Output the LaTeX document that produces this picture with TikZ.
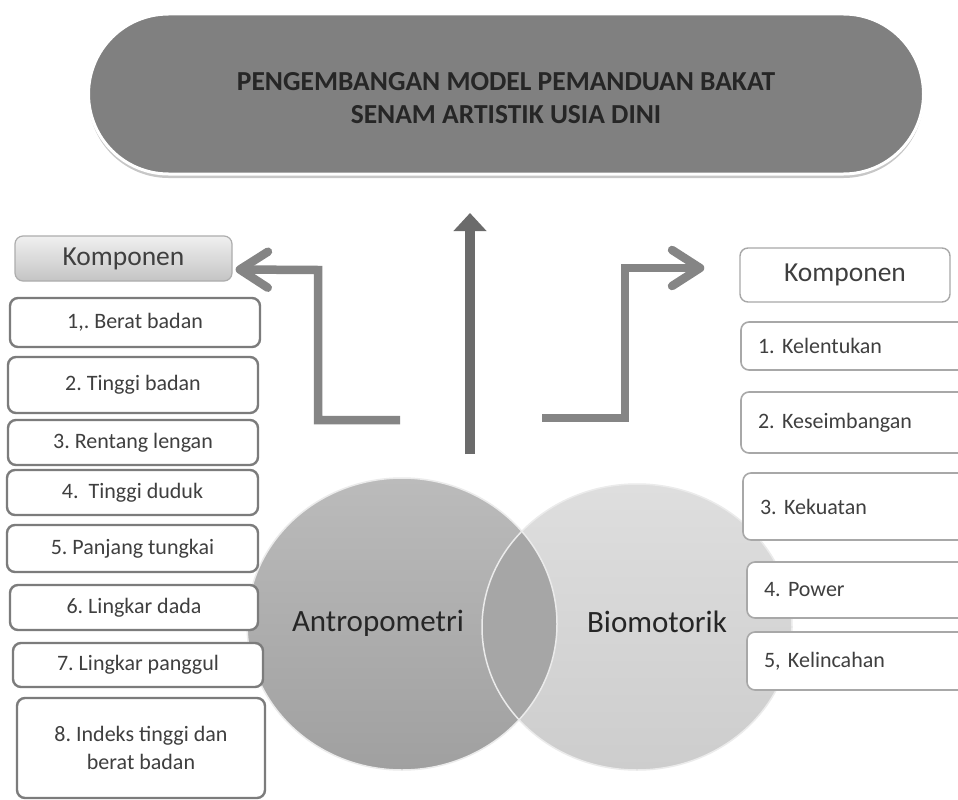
\documentclass[tikz,border=0pt]{standalone}
\usepackage{fontspec}
\setmainfont{Carlito}
\frenchspacing
\usetikzlibrary{arrows.meta,shadows,calc}
\definecolor{pillgray}{HTML}{808080}
\definecolor{titletext}{HTML}{262626}
\definecolor{textgray}{HTML}{3F3F3F}
\definecolor{lborder}{HTML}{7C7C7C}
\definecolor{rborder}{HTML}{A8A8A8}
\definecolor{arrowgray}{HTML}{858585}
\definecolor{antrotop}{HTML}{BBBBBB}
\definecolor{antrobot}{HTML}{A0A0A0}
\definecolor{biotop}{HTML}{DEDEDE}
\definecolor{biobot}{HTML}{CDCDCD}
\definecolor{overlapgray}{HTML}{A6A6A6}
\tikzset{
  pill/.style={fill=pillgray, draw=white, line width=3pt, minimum width=835pt, minimum height=160pt,
    rounded corners=80pt, inner sep=0pt, align=center, text=titletext,
    font=\bfseries\fontsize{27.5}{33}\selectfont,
    drop shadow={shadow xshift=0pt, shadow yshift=-4pt, fill=black, opacity=0.22}},
  lbox/.style={draw=lborder, line width=2.4pt, rounded corners=8pt, fill=white, inner sep=0pt,
    text=textgray, align=center, font=\fontsize{22}{28}\selectfont},
  rbox/.style={draw=rborder, line width=1.6pt, rounded corners=8pt, fill=white, inner xsep=17pt, inner ysep=0pt,
    text width=200pt, align=left, text=textgray, font=\fontsize{22}{24}\selectfont},
  komp/.style={rounded corners=8pt, inner sep=0pt, text=textgray, font=\fontsize{27.5}{30}\selectfont},
  circlabel/.style={text=titletext, font=\fontsize{31}{34}\selectfont},
  conn/.style={draw=arrowgray, line width=8.5pt},
}
\begin{document}
\begin{tikzpicture}[x=1pt,y=-1pt]
\useasboundingbox (0,0) rectangle (958,800);
\clip (0,0) rectangle (958,800);
\fill[white] (0,0) rectangle (958,800);

% title pill
\node[pill] (title) at (506,94) {\rule{0pt}{27pt}PENGEMBANGAN MODEL PEMANDUAN BAKAT\\SENAM ARTISTIK USIA DINI};

% circles
\shade[top color=antrotop, bottom color=antrobot] (402,624) ellipse [x radius=155, y radius=146];
\shade[top color=biotop, bottom color=biobot] (637,627) ellipse [x radius=155, y radius=143];
\begin{scope}
  \clip (402,624) ellipse [x radius=155, y radius=146];
  \fill[overlapgray] (637,627) ellipse [x radius=155, y radius=143];
\end{scope}
\draw[white!92!black, line width=1.5pt] (402,624) ellipse [x radius=155, y radius=146];
\draw[white!92!black, line width=1.5pt] (637,627) ellipse [x radius=155, y radius=143];
\node[circlabel] (antro) at (378,623) {Antropometri};
\node[circlabel] (bio) at (657,622) {Biomotorik};

% left boxes
\node[komp, top color=white!94!black, bottom color=white!77!black, draw=white!68!black, line width=1.2pt,
  minimum width=217pt, minimum height=45pt] (lk) at (123.5,258.5) {Komponen};
\node[lbox, minimum width=250pt, minimum height=49pt] (l1) at (135,322.5) {1,. Berat badan};
\node[lbox, minimum width=250pt, minimum height=56pt] (l2) at (133,385) {2. Tinggi badan};
\node[lbox, minimum width=250pt, minimum height=45pt] (l3) at (133,442.5) {3. Rentang lengan};
\node[lbox, minimum width=251pt, minimum height=45pt] (l4) at (132.5,492.5) {4.\ \ Tinggi duduk};
\node[lbox, minimum width=251pt, minimum height=47pt] (l5) at (132.5,548.5) {5. Panjang tungkai};
\node[lbox, minimum width=248pt, minimum height=45pt] (l6) at (134,607.5) {6. Lingkar dada};
\node[lbox, minimum width=250pt, minimum height=44pt] (l7) at (138,665) {7. Lingkar panggul};
\node[lbox, minimum width=248pt, minimum height=100pt] (l8) at (141,748) {8. Indeks tinggi dan\\berat badan};

% right boxes
\node[komp, fill=white, draw=rborder, line width=1.4pt, minimum width=210pt, minimum height=54pt] (rk) at (845,275) {Komponen};
\node[rbox, minimum height=48pt] (r1) at (858,346) {1. Kelentukan};
\node[rbox, minimum height=61pt] (r2) at (858,422.5) {2. Keseimbangan};
\node[rbox, minimum height=67pt] (r3) at (860,506.5) {3. Kekuatan};
\node[rbox, minimum height=56pt] (r4) at (864,590) {4. Power};
\node[rbox, minimum height=58pt] (r5) at (864,661) {5, Kelincahan};

% connectors
\coordinate (ub) at (470,454);
\coordinate (ut) at (470,213);
\draw[conn, draw=white!42!black, line width=10pt, -{Triangle[length=18pt,width=32pt]}] (ub) -- (ut);

\coordinate (ls) at (400,420);
\coordinate (lc) at (318,270);
\draw[conn, -{Straight Barb[length=28pt,width=36pt,round]}] (ls) -| (lc) -- ([xshift=3pt,yshift=-11pt]lk.east);

\coordinate (rs) at (542,418);
\coordinate (rc) at (625,268);
\draw[conn, -{Straight Barb[length=28pt,width=36pt,round]}] (rs) -| (rc) -- ([xshift=-35pt,yshift=7pt]rk.west);
\end{tikzpicture}
\end{document}
